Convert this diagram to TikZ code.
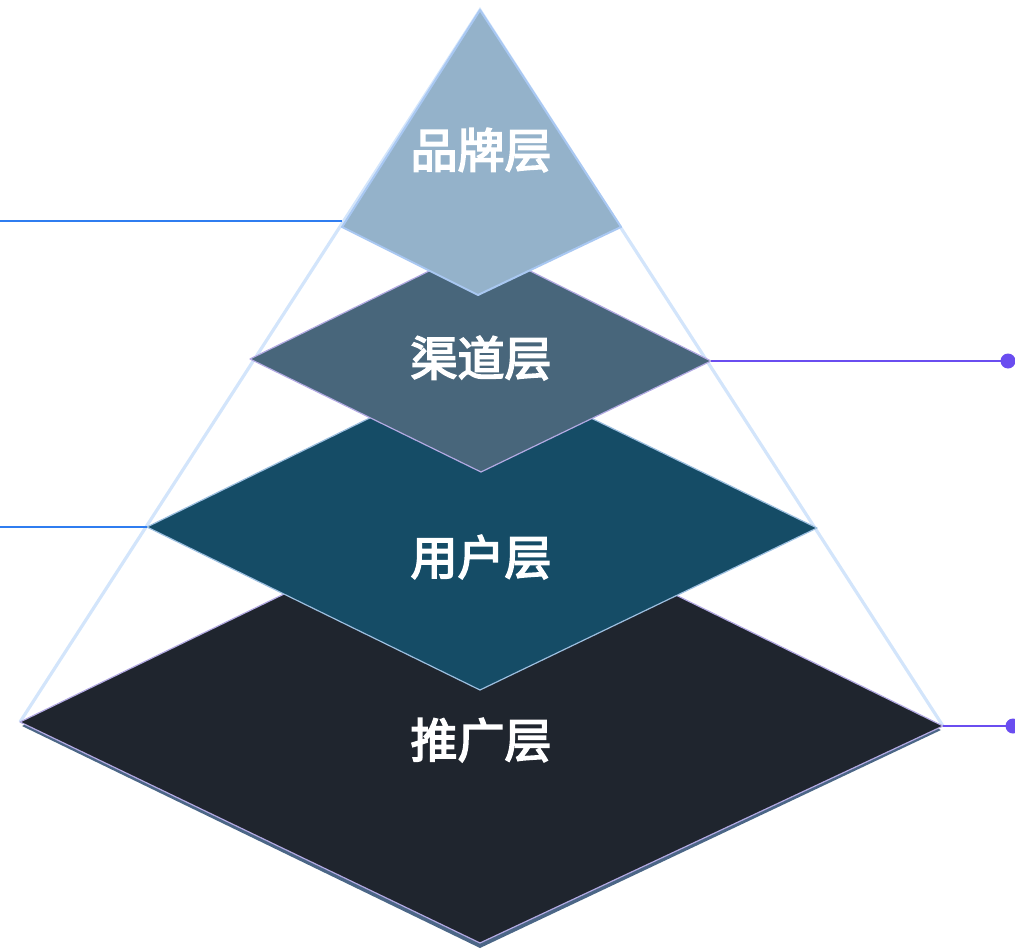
\documentclass[tikz,border=0pt]{standalone}
\usepackage{fontspec}
\newfontfamily\cjk{Noto Sans CJK SC}[BoldFont={Noto Sans CJK SC}, BoldFeatures={FakeBold=3.5}]
\definecolor{edgeblue}{HTML}{D3E5FB}
\definecolor{brandfill}{HTML}{94B2CA}
\definecolor{brandedge}{HTML}{A9C8F2}
\definecolor{chanfill}{HTML}{48667B}
\definecolor{userfill}{HTML}{154C66}
\definecolor{useredge}{HTML}{9DBFE0}
\definecolor{promofill}{HTML}{1F252E}
\definecolor{promoshade}{HTML}{4B6686}
\definecolor{lavender}{HTML}{B3AAE3}
\definecolor{lineblue}{HTML}{2F7DF0}
\definecolor{linepurple}{HTML}{6A4DF0}
\tikzset{
  layer/.style={line width=1.2, line join=round},
  lbl/.style={text=white, font=\cjk\bfseries\fontsize{47}{47}\selectfont},
  leftline/.style={draw=lineblue, line width=1.8},
  rightline/.style={draw=linepurple, line width=1.8},
  enddot/.style={circle, fill=linepurple, inner sep=0pt, minimum size=15}
}
\begin{document}
\begin{tikzpicture}[x=1pt,y=-1pt]
    \useasboundingbox (0,0) rectangle (1015,950);
    % corners of the layers
    \coordinate (apex) at (480,10);
    \coordinate (promoL) at (20,722);
    \coordinate (promoR) at (943,726);
    \coordinate (userL) at (147,527);
    \coordinate (userR) at (817,528);
    \coordinate (chanL) at (250,359);
    \coordinate (chanR) at (711,361);
    \coordinate (brandL) at (342,227);
    \coordinate (brandR) at (621,227);
    % outline of the pyramid
    \draw[edgeblue, line width=3.2] (promoL) -- (apex) -- (promoR);
    % layers, bottom first
    \fill[promoshade] (22,726) -- (480,503) -- (941,730) -- (480,948) -- cycle;
    \draw[layer, fill=promofill, draw=lavender] (promoL) -- (480,499) 
      -- (promoR) -- (480,943) -- cycle;
    \draw[layer, fill=userfill, draw=useredge] (userL) -- (480,364) 
      -- (userR) -- (480,690) -- cycle;
    \draw[layer, fill=chanfill, draw=lavender] (chanL) -- (480,246) 
      -- (chanR) -- (481,472) -- cycle;
    \draw[layer, fill=brandfill, draw=brandedge, line width=2] (apex) 
      -- (brandR) -- (478,295) -- (brandL) -- cycle;
    %\draw[edgeblue, line width=3] (promoL) -- (apex) -- (promoR);
    % side lines
    \coordinate (brandW) at (0,221);
    \coordinate (userW) at (0,527);
    \draw[leftline] (brandW) -- (brandL |- brandW);
    \draw[leftline] (userW) -- (userL);
    \node (chanE) at (1008,361) [enddot] {};
    \node (promoE) at (1013,726) [enddot] {};
    \draw[rightline] (chanR) -- (chanE.center);
    \draw[rightline] (promoR) -- (promoE.center);
    % labels
  	\node (brand) at (481,150) [lbl] {品牌层};
  	\node (chan) at (481,358) [lbl] {渠道层};
  	\node (user) at (481,557) [lbl] {用户层};
  	\node (promo) at (481,740) [lbl] {推广层};
  \end{tikzpicture}
\end{document}
